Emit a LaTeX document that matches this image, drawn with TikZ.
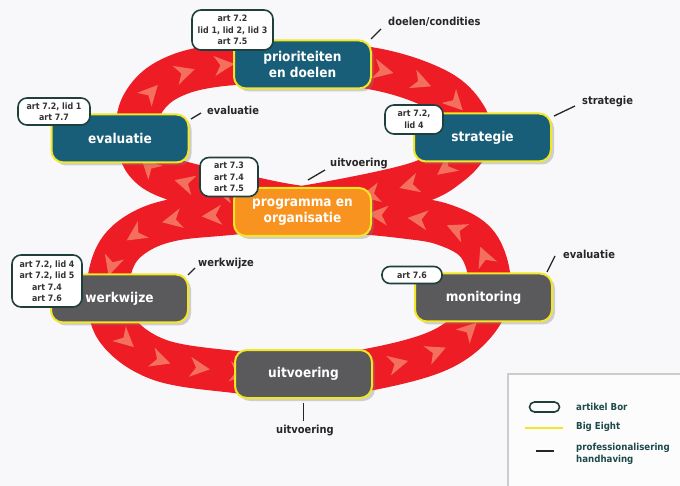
\documentclass[tikz,border=0pt]{standalone}
\usepackage{fontspec}
\setmainfont{DejaVu Sans Condensed}
\usetikzlibrary{shadows,decorations.markings}
\definecolor{bgcol}{HTML}{F8F8FB}
\definecolor{bandred}{HTML}{EE1C25}
\definecolor{chevcol}{HTML}{F6846A}
\definecolor{boxblue}{HTML}{195E78}
\definecolor{boxorange}{HTML}{F7931E}
\definecolor{boxgray}{HTML}{5A5A5D}
\definecolor{bigyellow}{HTML}{F2E626}
\definecolor{bubbleline}{HTML}{1F3F3D}
\definecolor{bubbletext}{HTML}{333333}
\definecolor{legendtext}{HTML}{1D4A4A}
\definecolor{legendframe}{HTML}{CCCCCC}
\begin{document}
\begin{tikzpicture}[x=1pt,y=-1pt,
  mainbox/.style={rounded corners=12pt, draw=bigyellow, line width=2pt,
    minimum width=137pt, minimum height=48pt, text=white,
    font=\fontsize{13.5}{16}\selectfont\bfseries, align=center, inner sep=2pt,
    drop shadow={opacity=0.35, shadow xshift=3pt, shadow yshift=-3pt}},
  bluebox/.style={mainbox, fill=boxblue},
  orangebox/.style={mainbox, fill=boxorange},
  graybox/.style={mainbox, fill=boxgray},
  bubble/.style={rounded corners=9pt, draw=bubbleline, line width=1.6pt, fill=white,
    text=bubbletext, font=\fontsize{8.8}{11.5}\selectfont\bfseries, align=center, inner sep=0pt},
  lbl/.style={font=\fontsize{11}{13}\selectfont\bfseries, text=black!85, anchor=west, inner sep=0pt},
  tickline/.style={line width=1.3pt, black!85},
  legtext/.style={font=\fontsize{9.6}{11.8}\selectfont\bfseries, text=legendtext, anchor=west, inner sep=0pt, align=left}
]
\fill[bgcol] (0,0) rectangle (680,486);
\useasboundingbox (0,0) rectangle (680,486);

% red figure-eight band
\draw[bandred, line width=42pt, line join=round,
  postaction={decorate, decoration={markings,
    mark=between positions 0.01 and 1 step 40pt with {
      \fill[chevcol, opacity=0.8] (10pt,0pt) -- (-10pt,10pt) -- (-4pt,0pt) -- (-10pt,-10pt) -- cycle;}}}]
  plot[smooth cycle, tension=0.6] coordinates {
    (302,207) (240,195) (175,180) (146,163) (137,135) (142,105) (167,80) (215,66)
    (302,62) (380,70) (438,90) (465,115) (470,140) (450,165) (410,185)
    (302,207) (230,214) (173,220) (138,233) (116,255) (108,290) (117,330) (160,360)
    (235,372) (302,377) (372,369) (440,350) (478,320) (490,285) (478,245) (445,225) (400,217)};

% main boxes
\node[bluebox] (prio) at (302.5,64.5) {prioriteiten\\en doelen};
\node[bluebox] (eval) at (120,138.5) {evaluatie};
\node[bluebox] (strat) at (482.5,137.5) {strategie};
\node[orangebox] (prog) at (302.5,212) {programma en\\organisatie};
\node[graybox] (werk) at (119.5,298.5) {werkwijze};
\node[graybox] (moni) at (483.5,297.5) {monitoring};
\node[graybox] (uitv) at (303.5,374) {uitvoering};

% article bubbles
\node[bubble, minimum width=81pt, minimum height=40pt] (b1) at (232.5,30) {art 7.2\\lid 1, lid 2, lid 3\\art 7.5};
\node[bubble, minimum width=72pt, minimum height=27pt] (b2) at (54,111.5) {art 7.2, lid 1\\art 7.7};
\node[bubble, minimum width=58pt, minimum height=29pt] (b3) at (414,119.5) {art 7.2,\\lid 4};
\node[bubble, minimum width=58pt, minimum height=39pt] (b4) at (229,177) {art 7.3\\art 7.4\\art 7.5};
\node[bubble, minimum width=70pt, minimum height=52pt] (b5) at (47,281) {art 7.2, lid 4\\art 7.2, lid 5\\art 7.4\\art 7.6};
\node[bubble, rounded corners=8pt, minimum width=60pt, minimum height=17pt] (b6) at (412,275) {art 7.6};

% professionalisering labels with ticks
\coordinate (t1a) at (371,39); \coordinate (t1b) at (381,29);
\draw[tickline] (t1a) -- (t1b);
\node[lbl] (l1) at (388,22) {doelen/condities};
\coordinate (t2a) at (191,119); \coordinate (t2b) at (201,113);
\draw[tickline] (t2a) -- (t2b);
\node[lbl] (l2) at (207,110) {evaluatie};
\coordinate (t3a) at (554,116); \coordinate (t3b) at (575,106);
\draw[tickline] (t3a) -- (t3b);
\node[lbl] (l3) at (582,102) {strategie};
\coordinate (t4a) at (308,180); \coordinate (t4b) at (325,170);
\draw[tickline] (t4a) -- (t4b);
\node[lbl] (l4) at (330,164) {uitvoering};
\coordinate (t5a) at (188,275); \coordinate (t5b) at (195,268);
\draw[tickline] (t5a) -- (t5b);
\node[lbl] (l5) at (198,264) {werkwijze};
\coordinate (t6a) at (547,272); \coordinate (t6b) at (555,256);
\draw[tickline] (t6a) -- (t6b);
\node[lbl] (l6) at (563,254) {evaluatie};
\coordinate (t7a) at (303.5,403); \coordinate (t7b) at (303.5,421);
\draw[tickline] (t7a) -- (t7b);
\node[lbl, anchor=center] (l7) at (305,431) {uitvoering};

% legend
\begin{scope}
  \clip (0,0) rectangle (680,486);
  \draw[legendframe, line width=1.5pt, fill=white!60!bgcol] (508,374) rectangle (692,500);
\end{scope}
\node[draw=bubbleline, line width=1.6pt, rounded corners=5pt, minimum width=30pt, minimum height=10pt, inner sep=0pt] (legb) at (544.5,407) {};
\node[legtext] (legbt) at (576,407) {artikel Bor};
\coordinate (lya) at (525,428); \coordinate (lyb) at (563,428);
\draw[bigyellow, line width=1.8pt] (lya) -- (lyb);
\node[legtext] (legyt) at (576,427) {Big Eight};
\coordinate (lka) at (536,451); \coordinate (lkb) at (554,451);
\draw[black!85, line width=1.3pt] (lka) -- (lkb);
\node[legtext] (legkt) at (576,453.5) {professionalisering\\handhaving};
\end{tikzpicture}
\end{document}
